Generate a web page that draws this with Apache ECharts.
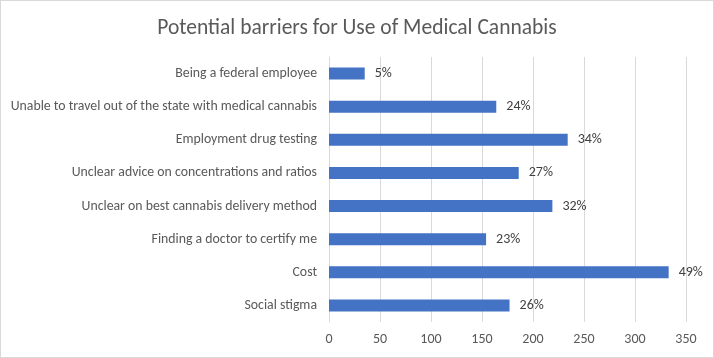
<!DOCTYPE html>
<html>
<head>
<meta charset="utf-8">
<script src="https://cdn.jsdelivr.net/npm/echarts@6/dist/echarts.min.js"></script>
<style>
  html, body { margin: 0; padding: 0; background: #fff; }
  #chart { width: 712px; height: 356px; border: 1px solid #d9d9d9; }
</style>
</head>
<body>
<div id="chart"></div>
<script>
// bottom to top, as the category axis draws them
const categories = [
  'Social stigma',
  'Cost',
  'Finding a doctor to certify me',
  'Unclear on best cannabis delivery method',
  'Unclear advice on concentrations and ratios',
  'Employment drug testing',
  'Unable to travel out of the state with medical cannabis',
  'Being a federal employee'
];
const counts = [177, 333, 154, 219, 186, 234, 164, 35];
const percentLabels = ['26%', '49%', '23%', '32%', '27%', '34%', '24%', '5%'];
const xTicks = { min: 0, max: 350, interval: 50 };

const font = 'Carlito, Calibri, Lato, sans-serif';
const chart = echarts.init(document.getElementById('chart'));
chart.setOption({
  animation: false,
  title: {
    text: 'Potential barriers for Use of Medical Cannabis',
    left: 'center', top: 12,
    textStyle: { fontFamily: font, fontSize: 21.5, fontWeight: 'normal', color: '#595959' }
  },
  grid: { left: 328, right: 27, top: 56, bottom: 35, containLabel: false },
  xAxis: {
    type: 'value', min: xTicks.min, max: xTicks.max, interval: xTicks.interval,
    axisLine: { show: false }, axisTick: { show: false },
    splitLine: { lineStyle: { color: '#d9d9d9', width: 1 } },
    axisLabel: { color: '#595959', fontFamily: font, fontSize: 14, margin: 10 }
  },
  yAxis: {
    type: 'category', data: categories,
    axisLine: { show: true, lineStyle: { color: '#d9d9d9' } },
    axisTick: { show: false },
    axisLabel: { color: '#595959', fontFamily: font, fontSize: 13.8, margin: 12 }
  },
  series: [{
    type: 'bar', data: counts, barWidth: 12,
    itemStyle: { color: '#4472c4' },
    label: {
      show: true, position: 'right', distance: 10,
      color: '#404040', fontFamily: font, fontSize: 14,
      formatter: p => percentLabels[p.dataIndex]
    }
  }]
});
</script>
</body>
</html>
